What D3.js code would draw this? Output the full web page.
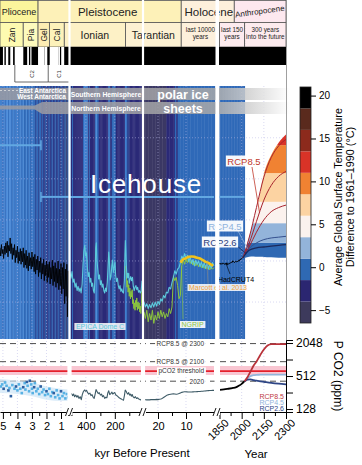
<!DOCTYPE html>
<html>
<head>
<meta charset="UTF-8">
<title>temperature and CO2, 5 Myr to 2300</title>
<script src="https://cdn.jsdelivr.net/npm/d3@7"></script>
<style>
  body { margin: 0; background: #fff; }
  svg { display: block; font-family: "Liberation Sans", Arial, Helvetica, sans-serif; }
</style>
</head>
<body>
<script>
// colour bands of the temperature scale (deg C, anomaly to 1961-1990)
var bandEdges = [-6.5, -4, -1.5, 1, 3.5, 6, 8.5, 11, 13.5, 16, 18.5, 21];
var bandColors = ["#3d3a5c", "#2b2671", "#2f69b3", "#93b4da", "#fbf2ee", "#fcd3a2",
                  "#f08232", "#d93327", "#8c2a1c", "#5a2a1d", "#000000"];
// the stripes behind the curves use a slightly stronger version of the lower bands
var stripeColors = ["#3b3864", "#2b2a78", "#2f69b8", "#4a8ad8", "#fbf2ee", "#fcd3a2",
                    "#f08232", "#d93327", "#8c2a1c", "#5a2a1d", "#000000"];
var barTicks = [20, 15, 10, 5, 0, -5];

// Pliocene / early Pleistocene stack (Ma)
var plioAge = [5.20,5.15,5.10,5.05,5.00,4.95,4.90,4.85,4.80,4.75,4.70,4.65,4.60,4.55,4.50,4.45,4.40,4.35,4.30,4.25,
  4.20,4.15,4.10,4.05,4.00,3.95,3.90,3.85,3.80,3.75,3.70,3.65,3.60,3.55,3.50,3.45,3.40,3.35,3.30,3.25,
  3.20,3.15,3.10,3.05,3.00,2.95,2.90,2.85,2.80,2.75,2.70,2.65,2.60,2.55,2.50,2.45,2.40,2.35,2.30,2.25,
  2.20,2.15,2.10,2.05,2.00,1.95,1.90,1.85,1.80,1.75,1.70,1.65,1.60,1.55,1.50,1.45,1.40,1.35,1.30,1.25,
  1.20,1.15,1.10,1.05,1.00,0.95,0.90,0.85,0.80,0.75,0.70,0.65,0.60,0.55,0.50,0.45];
var plioTemp = [1.6,0.6,2.0,0.9,1.4,0.3,1.8,0.8,2.2,1.0,2.4,0.5,1.9,1.2,2.8,0.9,2.1,0.2,1.6,0.7,
  2.0,-0.2,1.3,0.4,1.8,-0.3,1.1,0.0,1.5,-0.4,1.2,-0.1,1.6,-0.8,0.9,-0.5,1.3,-0.9,0.6,-1.2,
  1.0,-0.6,0.4,-1.0,1.1,-0.7,0.5,-1.3,0.8,-1.6,0.2,-1.1,0.6,-1.9,0.0,-1.4,0.4,-2.2,-0.3,-1.6,
  0.2,-2.4,-0.5,-1.8,0.0,-2.6,-0.4,-2.0,-0.1,-2.8,-0.8,-2.2,0.1,-3.0,-0.6,-2.5,-0.2,-3.2,-0.9,-2.7,
  0.0,-3.5,-1.0,-3.0,-0.3,-4.0,-0.8,-3.4,-0.2,-5.2,-1.0,-4.3,-0.4,-6.8,-1.2,-4.5];

// EPICA Dome C (kyr BP)
var epicaAge = [510,503,496,489,482,475,468,461,454,447,440,433,426,420,414,408,402,396,390,384,
  378,372,366,360,354,348,342,336,332,328,324,318,312,306,300,294,288,282,276,270,
  264,258,252,246,242,238,232,226,221,216,210,204,199,194,188,182,176,170,164,158,
  152,146,140,134,130,127,124,120,116,112,108,104,100,96,90,84,78,72,66,60,
  54,48,42,36,30,24,18,12];
var epicaTemp = [-1.4,-2.1,-1.3,-2.6,-2.2,-3.2,-2.7,-3.6,-3.1,-3.7,-3.3,-3.9,-2.8,-0.5,1.2,1.9,0.6,1.0,-0.8,-1.9,
  -1.4,-2.6,-2.1,-3.1,-2.7,-3.6,-3.9,-1.5,1.6,2.2,0.2,-1.0,-2.2,-1.7,-2.9,-2.4,-3.2,-2.8,-3.6,-3.9,
  -3.3,-3.7,-2.6,-0.4,1.1,0.2,-2.3,-1.9,-0.6,0.1,-1.4,-0.7,-0.1,-1.8,-2.5,-2.1,-3.0,-3.4,-3.0,-3.7,
  -3.4,-3.8,-3.9,-2.4,0.8,2.5,1.3,-0.6,-2.1,-1.5,-2.0,-1.5,-2.7,-2.3,-1.9,-2.4,-2.0,-3.1,-3.6,-3.2,
  -3.0,-3.5,-3.2,-3.8,-3.6,-3.9,-3.7,-2.4];

// NGRIP, last glacial (kyr BP)
var ngripAge = [124,120,116,112,108,104,100,96,92,88,84,80,76,72,68,64,60,56,52,48,44,40,36,32,28,24,20,16,12];
var ngripTemp = [-0.6,-1.8,-3.2,-2.4,-3.8,-2.9,-4.3,-3.3,-4.6,-3.7,-4.4,-3.5,-5.2,-4.7,-5.8,-5.1,-6.0,-4.8,-5.6,-4.5,
  -6.0,-5.0,-5.8,-5.1,-6.2,-5.5,-6.4,-5.2,-3.2];

// last 25 kyr
var lastAge = [25,24.5,24,23.5,23,22.5,22,21.5,21,20.5,20,19.5,19,18.5,18,17.5,17,16.5,16,15.5,
  15,14.5,14,13.5,13,12.5,12,11.5,11,10.5,10,9.5,9,8.5,8,7.5,7,6.5,6,5.5,
  5,4.5,4,3.5,3,2.5,2,1.5,1,0.5,0];
var domeTemp = [-5.0,-5.6,-5.2,-5.8,-5.3,-5.7,-5.1,-5.6,-5.0,-5.5,-4.9,-5.3,-4.6,-4.9,-4.2,-4.5,-3.8,-3.9,-3.2,-3.4,
  -2.6,-2.0,-1.2,-1.6,-1.0,-0.8,-0.2,0.6,0.2,0.9,0.3,0.7,-0.1,0.5,-0.3,0.2,-0.6,0.1,-0.4,0.0,
  -0.7,-0.1,-0.8,-0.2,-0.9,-0.3,-1.0,-0.4,-0.9,-0.2,-0.6];
var ngripLast = [-6.2,-7.0,-6.0,-7.4,-6.4,-7.2,-6.0,-7.6,-6.6,-7.2,-6.2,-7.0,-6.0,-6.8,-6.2,-7.0,-6.4,-6.8,-5.8,-6.4,
  -5.6,-1.8,-2.4,-2.0,-3.0,-4.6,-4.2,-0.6,0.2,-0.4,0.3,-0.2,0.4,-0.3,0.1,-0.5,0.0,-0.6,-0.2,-0.7,
  -0.3,-0.8,-0.4,-0.9,-0.5,-1.0,-0.6,-1.1,-0.7,-1.0,-0.8];
var marcottAge = [12,11,10,9,8,7,6,5,4,3,2,1,0.3];
var marcottTemp = [-0.2,0.2,0.35,0.5,0.55,0.5,0.4,0.3,0.1,-0.1,-0.25,-0.45,-0.6];

// HadCRUT4 (year, deg C)
var hadYear = [1850,1855,1860,1865,1870,1875,1880,1885,1890,1895,1900,1905,1910,1915,1920,1925,1930,1935,
  1940,1945,1950,1955,1960,1965,1970,1975,1980,1985,1990,1995,2000,2005,2010,2015];
var hadTemp = [-0.38,-0.28,-0.42,-0.30,-0.36,-0.24,-0.34,-0.40,-0.30,-0.44,-0.22,-0.46,-0.40,-0.28,-0.30,-0.22,-0.16,-0.20,
  0.02,-0.06,-0.18,-0.14,-0.04,-0.12,-0.02,-0.08,0.08,0.02,0.22,0.18,0.30,0.44,0.48,0.68];

// projections (year, deg C)
var fanYear = [2009, 2050, 2080, 2110, 2140, 2170, 2200, 2250, 2300];
var fanUpper = [0.4, 2.9, 4.8, 6.8, 9.9, 11.7, 12.9, 14.4, 15.4];
var fanLower = [0.3, 0.5, 0.55, 0.5, 0.5, 0.45, 0.45, 0.4, 0.4];
var fanEdges = [-10, 2.2, 4.6, 7.2, 10.7, 14.1, 22];
var fanColors = ["#2f69b3", "#93b4da", "#fbf2ee", "#fcd3a2", "#f08232", "#d93327"];
var rcpYear = [2009, 2050, 2100, 2150, 2200, 2250, 2300];
var rcp85Runs = [[0.4, 2.8, 6.5, 10.2, 12.6, 14.0, 14.8],
                 [0.4, 2.1, 4.8, 7.4, 9.2, 10.3, 10.9],
                 [0.4, 1.7, 3.5, 5.0, 6.0, 6.5, 6.8]];
var rcp45Temp = [0.4, 1.5, 2.2, 2.6, 2.8, 2.9, 3.0];
var rcp26Temp = [0.4, 1.3, 1.6, 1.7, 1.8, 1.9, 2.0];

// CO2 (ppm)
var plioCO2 = [[5.15,330,0],[5.05,360,0],[4.95,300,1],[4.85,390,0],[4.75,340,0],[4.62,280,1],[4.55,310,0],[4.45,220,1],
  [4.35,350,0],[4.2,300,0],[4.1,330,1],[4.0,280,0],[3.9,360,0],[3.8,300,0],[3.7,250,0],[3.6,320,1],[3.5,380,0],
  [3.45,290,0],[3.35,400,1],[3.3,340,0],[3.2,270,0],[3.15,420,1],[3.05,360,0],[3.0,300,0],[2.95,250,0],[2.85,320,1],
  [2.8,380,0],[2.7,270,0],[2.6,300,0],[2.5,240,0],[2.4,330,1],[2.3,260,0],[2.2,290,0],[2.1,230,0],[2.0,270,1],
  [1.9,240,0],[1.8,300,0],[1.7,220,0],[1.6,260,0],[1.5,250,1],[1.4,210,0],[1.3,280,0],[1.2,230,0],[1.1,200,0],
  [1.0,270,1],[0.9,220,0],[0.8,250,0],[0.7,200,0],[0.6,240,0],[0.5,210,0]];
var plioBandAge = [5.2, 4.0, 3.0, 2.0, 1.0, 0.45];
var plioBandLo = [250, 240, 220, 190, 180, 180];
var plioBandHi = [450, 420, 400, 330, 300, 290];
var epicaCO2Age = [510,500,492,485,478,470,462,455,448,440,432,425,418,410,402,395,388,380,372,365,358,350,343,336,330,
  322,315,308,300,292,285,278,270,262,255,248,242,235,228,220,214,207,200,193,186,178,170,162,155,148,140,133,128,
  122,116,110,104,98,92,86,80,74,66,58,50,42,34,26,20,14];
var epicaCO2 = [230,245,225,240,215,230,210,225,200,215,190,235,265,285,270,280,255,240,250,225,235,210,200,240,290,
  265,245,255,230,240,215,225,200,210,205,255,275,235,245,260,240,250,255,230,225,215,205,200,195,190,185,230,285,
  270,250,240,255,230,240,220,235,215,205,215,200,205,195,190,188,200];
var lastCO2 = [190,189,188,189,188,190,190,191,190,192,190,193,195,200,208,216,225,232,235,238,
  240,242,240,238,240,245,252,258,262,264,265,263,262,261,262,263,264,265,266,267,
  268,270,271,273,274,276,277,278,279,280,280];
var histYear = [1850, 1880, 1910, 1940, 1960, 1980, 2000, 2010, 2020];
var histCO2 = [285, 291, 300, 310, 317, 339, 369, 390, 412];
var rcpCO2Year = [2020, 2040, 2060, 2080, 2100, 2125, 2150, 2175, 2200, 2250, 2300];
var rcp85CO2 = [412, 490, 620, 790, 936, 1230, 1560, 1840, 1960, 1962, 1962];
var rcp45CO2 = [412, 470, 510, 530, 538, 541, 543, 543, 543, 543, 543];
var rcp26CO2 = [412, 440, 443, 432, 421, 410, 400, 392, 384, 371, 361];
var refLabels = ["RCP8.5 @ 2300", "RCP8.5 @ 2100", "2020"];
var refCO2 = [2000, 936, 412];
var thresholdCO2 = [535, 630, 780];

// geological time
var epochNames = ["Pliocene", "Pleistocene", "Holocene", "Anthropocene"];
var epochFrom = [[1, 5.333], [1, 2.58], [3, 11.7], [4, 1950]];
var epochTo = [[1, 2.58], [3, 11.7], [4, 1950], [4, 2300]];
var epochColors = ["#fbf59c", "#fdf1b8", "#fdf0dc", "#fde8ef"];
var stageNames = ["Zan", "Pia", "Gel", "Cal", "Ionian", "Tarantian", "last 10000|years", "last 150|years", "300 years|into the future"];
var stageFrom = [[1, 5.333], [1, 3.6], [1, 2.58], [1, 1.8], [1, 0.774], [2, 126], [3, 11.7], [4, 1850], [4, 2020]];
var stageTo = [[1, 3.6], [1, 2.58], [1, 1.8], [1, 0.774], [2, 126], [3, 11.7], [4, 1850], [4, 2020], [4, 2300]];
var stageColors = ["#fdfab0", "#fdfabd", "#fdedb3", "#fdf2ba", "#fdf1c6", "#fdf1d2", "#fdf0dc", "#fdebee", "#fdebee"];
var normalChrons = [[0, 0.781], [0.988, 1.072], [1.173, 1.185], [1.778, 1.945], [2.128, 2.148], [2.581, 3.032],
  [3.116, 3.207], [3.330, 3.596], [4.187, 4.300], [4.493, 4.631], [4.799, 4.896], [4.997, 5.235]];
var chronNames = ["C2", "C1"];
var chronFrom = [4.18, 1.88];
var chronTo = [1.88, 0.45];
var nhOnset = [2.8, 2.3];

// axis ticks
var tick1 = [5, 4, 3, 2, 1], minor1 = [4.5, 3.5, 2.5, 1.5, 0.5];
var tick2 = [400, 200], minor2 = [500, 300, 100];
var tick3 = [20, 10], minor3 = [15, 5];
var tick4 = [1850, 2000, 2150, 2300], minor4 = [1925, 2075, 2225];
var gridTemps = [15, 10, 5, 0, -5];
var co2Ticks = [128, 256, 512, 1024, 2048];

//create the canvas
var svg = d3.select("body").append("svg").attr("width", 362).attr("height", 465);
var defs = svg.append("defs");

var x1 = d3.scaleLinear().domain([5.2, 0.45]).range([0, 69]);
var x2 = d3.scaleLinear().domain([510, 12]).range([70, 142]);
var x3 = d3.scaleLinear().domain([25, 0]).range([144, 214]);
var x4 = d3.scaleLinear().domain([1850, 2300]).range([219.5, 286]);
var xs = [null, x1, x2, x3, x4];
var yT = d3.scaleLinear().domain([-9.5, 21.3]).range([339, 86]);
var yC = d3.scaleLog().base(2).domain([113, 2325]).range([412, 340]);
var yBar = d3.scaleLinear().domain([-6.5, 21]).range([323, 87]);
var sColor = d3.scaleThreshold().domain(bandEdges.slice(1, -1)).range(stripeColors);
function X(p) { return Math.max(0, xs[p[0]](p[1])); }

//header: epochs
var head = svg.append("g");
epochNames.forEach(function (n, i) {
  var a = X(epochFrom[i]), b = X(epochTo[i]);
  head.append("rect").attr("x", a).attr("y", 0.5).attr("width", b - a).attr("height", 22)
    .attr("fill", epochColors[i]).attr("stroke", "#555").attr("stroke-width", 0.8);
  var t = head.append("text").attr("text-anchor", "middle").attr("fill", "#222").text(n);
  if (i == 0) t.attr("x", (a + b) / 2).attr("y", 15).attr("font-size", 9);
  else if (i == 3) t.attr("font-size", 8).attr("transform", "translate(" + ((a + b) / 2) + ",14) rotate(-8)");
  else t.attr("x", (a + b) / 2 - (i == 1 ? 2 : -1)).attr("y", 16).attr("font-size", 11.5);
});
//header: stages
stageNames.forEach(function (n, i) {
  var a = X(stageFrom[i]), b = X(stageTo[i]);
  head.append("rect").attr("x", a).attr("y", 22.5).attr("width", b - a).attr("height", 24.5)
    .attr("fill", stageColors[i]).attr("stroke", "#555").attr("stroke-width", 0.8);
  var c = (a + b) / 2;
  if (i < 4) {
    head.append("text").attr("transform", "translate(" + (c + 3) + ",35) rotate(-90)")
      .attr("text-anchor", "middle").attr("font-size", 8.5).attr("fill", "#222").text(n);
  } else if (i < 6) {
    head.append("text").attr("x", c).attr("y", 38.5).attr("text-anchor", "middle")
      .attr("font-size", 10.5).attr("fill", "#222").text(n);
  } else {
    var t = head.append("text").attr("text-anchor", "middle").attr("font-size", 6.3).attr("fill", "#222");
    n.split("|").forEach(function (s, k) {
      t.append("tspan").attr("x", c).attr("y", 32 + k * 7).text(s);
    });
  }
});
head.append("line").attr("x1", x4(2020)).attr("x2", x4(2020)).attr("y1", 23).attr("y2", 47)
  .attr("stroke", "#666").attr("stroke-dasharray", "1,1.5").attr("stroke-width", 0.7);
//magnetostratigraphy
head.append("rect").attr("x", 0).attr("y", 47).attr("width", 69).attr("height", 18).attr("fill", "#fff");
normalChrons.forEach(function (c) {
  var a = X([1, c[1]]), b = Math.min(69, x1(c[0]));
  head.append("rect").attr("x", a).attr("y", 47).attr("width", b - a).attr("height", 18).attr("fill", "#000");
});
head.append("rect").attr("x", x2.range()[0]).attr("y", 47).attr("width", 286 - x2.range()[0]).attr("height", 18).attr("fill", "#000");
chronNames.forEach(function (n, i) {
  var a = x1(chronFrom[i]), b = x1(chronTo[i]);
  head.append("path").attr("d", "M" + a + ",65V82H" + b).attr("fill", "none").attr("stroke", "#444").attr("stroke-width", 0.8);
  head.append("text").attr("transform", "translate(" + ((a + b) / 2 + 2) + ",74) rotate(-90)")
    .attr("text-anchor", "middle").attr("font-size", 6).attr("fill", "#333").text(n);
});

//background stripes coloured by temperature
var bg = svg.append("g");
function stripes(xsc, ages, temps, endX) {
  ages.forEach(function (a, i) {
    var p = xsc(a);
    var q = i < ages.length - 1 ? xsc(ages[i + 1]) : endX;
    if (q - p < 0.5) q = p + 0.8;
    bg.append("rect").attr("x", p).attr("y", 86).attr("width", q - p + 0.45).attr("height", 253)
      .attr("fill", sColor(temps[i]));
  });
}
stripes(x1, plioAge, plioTemp, 69);
stripes(x2, epicaAge, epicaTemp, 142);
stripes(x3, lastAge, domeTemp, 214);
stripes(x4, hadYear, hadTemp, x4(2020));

//grid
var grid = svg.append("g").attr("stroke", "#b9b9e6").attr("stroke-width", 0.7).attr("stroke-dasharray", "1,2").attr("opacity", 0.75);
gridTemps.forEach(function (t) {
  grid.append("line").attr("x1", 0).attr("x2", 286).attr("y1", yT(t)).attr("y2", yT(t));
});
[[x1, tick1], [x2, tick2], [x3, tick3], [x4, tick4.slice(1, 3)]].forEach(function (g) {
  g[1].forEach(function (v) {
    grid.append("line").attr("x1", g[0](v)).attr("x2", g[0](v)).attr("y1", 86).attr("y2", 412);
  });
});

//ice sheets
var grad = defs.append("linearGradient").attr("id", "ice").attr("gradientUnits", "userSpaceOnUse")
  .attr("x1", 0).attr("x2", 290).attr("y1", 0).attr("y2", 0);
grad.append("stop").attr("offset", 0).attr("stop-color", "#9a9aa2");
grad.append("stop").attr("offset", 0.74).attr("stop-color", "#a9a9a9");
grad.append("stop").attr("offset", 1).attr("stop-color", "#ffffff");
var ice = svg.append("g");
ice.append("rect").attr("x", 0).attr("y", 88).attr("width", 290).attr("height", 12)
  .attr("fill", "url(#ice)").attr("opacity", 0.85);
var o1 = x1(nhOnset[0]), o2 = x1(nhOnset[1]);
ice.append("path").attr("d", "M0,105.5H" + o1 + "L" + o2 + ",102V114L" + o1 + ",109.5H0Z")
  .attr("fill", "url(#ice)").attr("opacity", 0.85);
ice.append("path").attr("d", "M" + o2 + ",102H290V114H" + o2 + "Z").attr("fill", "url(#ice)").attr("opacity", 0.85);
ice.append("line").attr("x1", 0).attr("x2", 18).attr("y1", 90.5).attr("y2", 90.5)
  .attr("stroke", "#e0e0e0").attr("stroke-dasharray", "2,2").attr("stroke-width", 0.8);
var iceText = [["East Antarctica", 66, 92.5, 6.5, "end"], ["West Antarctica", 66, 99, 6.5, "end"],
  ["Southern Hemisphere", 106, 96.5, 6.8, "middle"], ["Northern Hemisphere", 106, 110.5, 6.8, "middle"],
  ["polar ice", 183, 98.5, 12.5, "middle"], ["sheets", 183, 112.5, 12.5, "middle"]];
iceText.forEach(function (d) {
  ice.append("text").attr("x", d[1]).attr("y", d[2]).attr("font-size", d[3]).attr("font-weight", "bold")
    .attr("text-anchor", d[4]).attr("fill", "#fff").text(d[0]);
});

//range lines
var rl = svg.append("g").attr("stroke", "#62a8e2").attr("stroke-width", 2);
rl.append("line").attr("x1", 0).attr("x2", x1(2.38)).attr("y1", yT(14.1)).attr("y2", yT(14.1));
rl.append("line").attr("x1", x1(2.38)).attr("x2", x1(2.38)).attr("y1", yT(14.1) - 5).attr("y2", yT(14.1) + 5).attr("stroke-width", 1.5);
rl.append("line").attr("x1", x1(2.38)).attr("x2", x1(2.38)).attr("y1", yT(7.8) - 5).attr("y2", yT(7.8) + 5).attr("stroke-width", 1.5);
[[x1(2.38), 69], [70, 142], [144, 214], [x4(1850), x4(2020)]].forEach(function (s) {
  rl.append("line").attr("x1", s[0]).attr("x2", s[1]).attr("y1", yT(7.8)).attr("y2", yT(7.8));
});

svg.append("text").attr("x", 146).attr("y", 193).attr("text-anchor", "middle").attr("font-size", 26)
  .attr("fill", "#fff").attr("letter-spacing", 0.8).text("Icehouse");

//curves
function curve(xsc, ages, vals, color, w, ysc, cv) {
  var line = d3.line().x(function (d) { return xsc(d[0]); }).y(function (d) { return ysc(d[1]); });
  if (cv) line.curve(cv);
  return svg.append("path").datum(ages.map(function (a, i) { return [a, vals[i]]; }))
    .attr("d", line).attr("fill", "none").attr("stroke", color).attr("stroke-width", w)
    .attr("stroke-linejoin", "round");
}
curve(x1, plioAge, plioTemp, "#000", 0.9, yT);
curve(x2, ngripAge, ngripTemp, "#8cc63e", 1, yT);
curve(x2, epicaAge, epicaTemp, "#5cc9dc", 1.1, yT);
curve(x3, lastAge, ngripLast, "#8cc63e", 1, yT);
curve(x3, lastAge, domeTemp, "#5cc9dc", 1.1, yT);
curve(x3, marcottAge, marcottTemp, "#f2c21b", 2.6, yT, d3.curveMonotoneX);
curve(x4, hadYear, hadTemp, "#000", 1, yT);

//projection fan
var fanArea = d3.area().x(function (d) { return x4(d[0]); })
  .y0(function (d) { return yT(d[1]); }).y1(function (d) { return yT(d[2]); }).curve(d3.curveMonotoneX);
defs.append("clipPath").attr("id", "fanClip").append("path")
  .attr("d", fanArea(fanYear.map(function (y, i) { return [y, fanLower[i], fanUpper[i]]; })));
var fan = svg.append("g").attr("clip-path", "url(#fanClip)");
fanColors.forEach(function (c, i) {
  fan.append("rect").attr("x", x4(2000)).attr("width", x4(2300) - x4(2000))
    .attr("y", yT(fanEdges[i + 1])).attr("height", yT(fanEdges[i]) - yT(fanEdges[i + 1])).attr("fill", c);
});
rcp85Runs.forEach(function (r) { curve(x4, rcpYear, r, "#a8232d", 1, yT, d3.curveMonotoneX); });
curve(x4, rcpYear, rcp45Temp, "#34508e", 1, yT, d3.curveMonotoneX);
curve(x4, rcpYear, rcp26Temp, "#1c2a5c", 1.3, yT, d3.curveMonotoneX);

//labels
function label(x, y, txt, color, size, boxed, anchor) {
  var g = svg.append("g");
  var t = g.append("text").attr("x", x).attr("y", y).attr("font-size", size).attr("fill", color)
    .attr("text-anchor", anchor || "middle").text(txt);
  if (boxed) {
    var b = t.node().getBBox();
    g.insert("rect", "text").attr("x", b.x - 1.5).attr("y", b.y).attr("width", b.width + 3).attr("height", b.height)
      .attr("fill", "#fff").attr("opacity", boxed);
  }
  return g;
}
svg.append("line").attr("x1", 252).attr("y1", 167).attr("x2", x4(2120)).attr("y2", yT(6)).attr("stroke", "#c0392b").attr("stroke-width", 0.8);
svg.append("line").attr("x1", 238).attr("y1", 231).attr("x2", x4(2040)).attr("y2", yT(1.5)).attr("stroke", "#8fb3dc").attr("stroke-width", 0.8);
svg.append("line").attr("x1", 236).attr("y1", 245).attr("x2", x4(2030)).attr("y2", yT(0.9)).attr("stroke", "#1c2a5c").attr("stroke-width", 0.8);
label(244, 164.5, "RCP8.5", "#c0392b", 9.5, 0.95);
label(225, 229.5, "RCP4.5", "#8fb3dc", 9.5, 0.95);
label(220, 245.5, "RCP2.6", "#2e3f7c", 9.5, 0.95);
svg.append("line").attr("x1", 230).attr("y1", 274).attr("x2", x4(1895)).attr("y2", yT(-0.35)).attr("stroke", "#000").attr("stroke-width", 0.6);
label(236, 282, "HadCRUT4", "#000", 7, 0);
svg.append("line").attr("x1", 208).attr("y1", 284).attr("x2", x3(2.5)).attr("y2", yT(-0.2)).attr("stroke", "#888").attr("stroke-width", 0.6);
label(218, 290, "Marcott et al. 2013", "#f4a53a", 7, 0.85);
svg.append("line").attr("x1", 183).attr("y1", 319).attr("x2", x3(11.6)).attr("y2", yT(-0.6)).attr("stroke", "#8cc63e").attr("stroke-width", 0.6);
label(192.5, 327, "NGRIP", "#8cc63e", 7, 0.9);
label(100, 329, "EPICA Dome C", "#5cc9dc", 7, 0.85);

//CO2 panel
var co2 = svg.append("g");
var refG = co2.append("g");
refCO2.forEach(function (v, i) {
  refG.append("line").attr("x1", 0).attr("x2", 286).attr("y1", yC(v)).attr("y2", yC(v))
    .attr("stroke", "#222").attr("stroke-width", 0.8).attr("stroke-dasharray", "6,4");
});
[[0, 69], [70, 142], [144, 214], [219.5, 286]].forEach(function (s) {
  co2.append("rect").attr("x", s[0]).attr("width", s[1] - s[0]).attr("y", yC(thresholdCO2[2]))
    .attr("height", yC(thresholdCO2[0]) - yC(thresholdCO2[2])).attr("fill", "#f9c6d2");
  co2.append("line").attr("x1", s[0]).attr("x2", s[1]).attr("y1", yC(thresholdCO2[1])).attr("y2", yC(thresholdCO2[1]))
    .attr("stroke", "#e4202b").attr("stroke-width", 1.8);
});
refLabels.forEach(function (n, i) { label(204, yC(refCO2[i]) + 2.3, n, "#333", 6.5, 1, "end"); });
label(204, yC(thresholdCO2[1]) + 2.3, "pCO2 threshold", "#333", 6.5, 1, "end");

co2.append("path").datum(plioBandAge.map(function (a, i) { return [a, plioBandLo[i], plioBandHi[i]]; }))
  .attr("d", d3.area().x(function (d) { return x1(d[0]); }).y0(function (d) { return yC(d[1]); })
    .y1(function (d) { return yC(d[2]); }).curve(d3.curveMonotoneX))
  .attr("fill", "#cfe6f6").attr("opacity", 0.7);
co2.selectAll("rect.sq").data(plioCO2).enter().append("rect").attr("class", "sq")
  .attr("x", function (d) { return x1(d[0]) - 1.3; }).attr("y", function (d) { return yC(d[1]) - 1.3; })
  .attr("width", 2.6).attr("height", 2.6)
  .attr("fill", function (d) { return d[2] ? "#2d5fa0" : "#58b2e4"; });
curve(x2, epicaCO2Age, epicaCO2, "#3d5a66", 1.1, yC);
curve(x3, lastAge, lastCO2, "#3d5a66", 1.1, yC);
curve(x4, histYear, histCO2, "#000", 1.8, yC, d3.curveMonotoneX);
curve(x4, rcpCO2Year, rcp45CO2, "#93b4da", 1.8, yC, d3.curveMonotoneX);
curve(x4, rcpCO2Year, rcp26CO2, "#2e4585", 1.8, yC, d3.curveMonotoneX);
curve(x4, rcpCO2Year, rcp85CO2, "#b8323a", 1.8, yC, d3.curveMonotoneX);
[["RCP8.5", "#c0393f"], ["RCP4.5", "#93b4da"], ["RCP2.6", "#2e4585"]].forEach(function (d, i) {
  label(284, 398.5 + i * 6, d[0], d[1], 7, 0, "end");
});

//white panel breaks
[[68.4, 2.2], [141.9, 2.2], [215.5, 3.5]].forEach(function (d) {
  svg.append("rect").attr("x", d[0]).attr("y", 0).attr("width", d[1]).attr("height", 339).attr("fill", "#fff");
  svg.append("rect").attr("x", d[0] - 1).attr("y", 339).attr("width", d[1] + 2).attr("height", 73).attr("fill", "#fff");
});
svg.append("line").attr("x1", 286.5).attr("x2", 286.5).attr("y1", 0).attr("y2", 412).attr("stroke", "#888").attr("stroke-width", 0.8);

//x axes
function xAxis(xsc, major, minor, fmt) {
  var g = svg.append("g").attr("transform", "translate(0,412)");
  g.call(d3.axisBottom(xsc).tickValues(major).tickSize(7).tickSizeOuter(0).tickFormat(fmt || d3.format("d")));
  var m = svg.append("g").attr("transform", "translate(0,412)");
  m.call(d3.axisBottom(xsc).tickValues(minor).tickSize(4).tickSizeOuter(0).tickFormat(""));
  m.select(".domain").remove();
  g.selectAll("text").attr("font-size", 11).attr("fill", "#000").attr("font-family", "Liberation Sans, Arial, sans-serif");
  return g;
}
xAxis(x1, tick1, minor1);
xAxis(x2, tick2, minor2);
xAxis(x3, tick3, minor3);
var a4 = xAxis(x4, tick4, minor4);
a4.selectAll("text").attr("text-anchor", "end").attr("transform", "translate(4,6) rotate(-45)").attr("dy", "0.35em").attr("y", 4);
[69.5, 143, 217].forEach(function (x) {
  svg.append("rect").attr("x", x - 3).attr("y", 409).attr("width", 6).attr("height", 6).attr("fill", "#fff");
  svg.append("path").attr("d", "M" + (x - 4) + ",416L" + (x - 1) + ",408M" + (x) + ",416L" + (x + 3) + ",408")
    .attr("stroke", "#000").attr("stroke-width", 0.9);
});
svg.append("text").attr("x", 142).attr("y", 457).attr("text-anchor", "middle").attr("font-size", 11.5).text("kyr Before Present");
svg.append("text").attr("x", 256).attr("y", 458).attr("text-anchor", "middle").attr("font-size", 11.5).text("Year");

//CO2 axis
var ya = svg.append("g").attr("transform", "translate(286,0)")
  .call(d3.axisRight(yC).tickValues(co2Ticks).tickSize(7)
    .tickFormat(function (d) { return (d == 128 || d == 512 || d == 2048) ? d : ""; }));
ya.selectAll("text").attr("font-size", 12).attr("fill", "#000").attr("font-family", "Liberation Sans, Arial, sans-serif");
svg.append("text").attr("transform", "translate(334,376) rotate(90)").attr("text-anchor", "middle")
  .attr("font-size", 12).text("P CO2 (ppm)");

//colour bar
var cb = svg.append("g");
bandColors.forEach(function (c, i) {
  cb.append("rect").attr("x", 300).attr("width", 11).attr("y", yBar(bandEdges[i + 1]))
    .attr("height", yBar(bandEdges[i]) - yBar(bandEdges[i + 1])).attr("fill", c);
});
cb.append("rect").attr("x", 300).attr("width", 11).attr("y", yBar(21)).attr("height", yBar(-6.5) - yBar(21))
  .attr("fill", "none").attr("stroke", "#222").attr("stroke-width", 0.8);
var cba = svg.append("g").attr("transform", "translate(311,0)").call(d3.axisRight(yBar).tickValues(barTicks).tickSize(5));
cba.select(".domain").remove();
cba.selectAll("text").attr("font-size", 10).attr("fill", "#000").attr("font-family", "Liberation Sans, Arial, sans-serif");
svg.append("text").attr("transform", "translate(338,197) rotate(-90)").attr("text-anchor", "middle").attr("dy", "0.35em")
  .attr("font-size", 10.8).text("Average Global Surface Temperature");
svg.append("text").attr("transform", "translate(350,197) rotate(-90)").attr("text-anchor", "middle").attr("dy", "0.35em")
  .attr("font-size", 10.8).text("Difference to 1961\u20131990 (\u00b0C)");
</script>
</body>
</html>
